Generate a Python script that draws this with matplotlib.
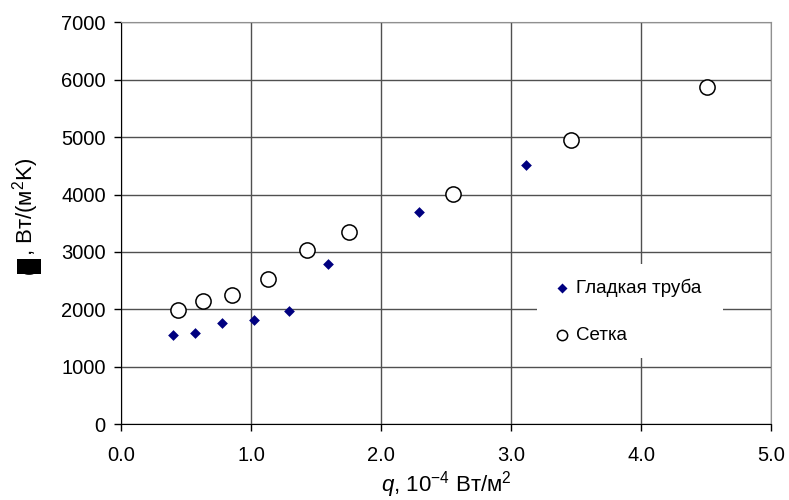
import matplotlib
matplotlib.use("Agg")
import matplotlib.pyplot as plt

plt.rcParams['font.family'] = ['Liberation Sans', 'DejaVu Sans']
plt.rcParams['mathtext.fontset'] = 'custom'
plt.rcParams['mathtext.rm'] = 'Liberation Sans'
plt.rcParams['mathtext.it'] = 'Liberation Sans:italic'

smooth_q = [0.40, 0.57, 0.78, 1.02, 1.29, 1.59, 2.29, 3.115]
smooth_a = [1550, 1580, 1760, 1810, 1970, 2790, 3700, 4520]
mesh_q = [0.44, 0.63, 0.85, 1.13, 1.43, 1.75, 2.55, 3.46, 4.51]
mesh_a = [1985, 2140, 2245, 2530, 3035, 3350, 4010, 4955, 5875]
labels = ["Гладкая труба", "Сетка"]
x_ticks = [0.0, 1.0, 2.0, 3.0, 4.0, 5.0]
y_ticks = [0, 1000, 2000, 3000, 4000, 5000, 6000, 7000]

fig = plt.figure(figsize=(7.89, 5.0), dpi=100)
ax = fig.add_axes([121 / 789, 76 / 500, 650 / 789, 401.5 / 500])

ax.scatter(smooth_q, smooth_a, marker='D', s=30, color='#000080', label=labels[0], zorder=3, linewidths=0)
ax.scatter(mesh_q, mesh_a, marker='o', s=120, facecolors='white', edgecolors='black', linewidths=1.1, label=labels[1], zorder=3)

ax.set_xlim(0, 5)
ax.set_ylim(0, 7000)
ax.set_xticks(x_ticks)
ax.set_xticklabels([f"{t:.1f}" for t in x_ticks])
ax.set_yticks(y_ticks)
ax.grid(True, color='#505050', linewidth=1.0)
ax.set_axisbelow(True)
for s in ['top', 'right']:
    ax.spines[s].set_color('#909090')
for s in ['left', 'bottom']:
    ax.spines[s].set_color('black')
ax.tick_params(axis='both', labelsize=14.5, direction='out', length=5, width=1)
ax.tick_params(axis='x', pad=11)
ax.tick_params(axis='y', pad=6)

ax.set_xlabel("$q$, 10$^{-4}$ Вт/м$^2$", fontsize=16, labelpad=3)

# y-axis label: the symbol alpha shows as a solid black box in the original
fig.text(26 / 789, 1 - 207 / 500, ", Вт/(м$^2$K)", rotation=90, ha='center', va='center', fontsize=16)
fig.text(28.5 / 789, 1 - 266.5 / 500, "\u03b1", rotation=90, ha='center', va='center',
         fontsize=18.5, color='black',
         bbox=dict(boxstyle='square,pad=0', facecolor='black', edgecolor='none'))

leg = ax.legend(loc='center', bbox_to_anchor=(0.64, 0.1545, 0.286, 0.254), mode='expand',
                frameon=True, fancybox=False, framealpha=1, edgecolor='none',
                fontsize=13.5, labelspacing=1.6, handletextpad=0.15, borderpad=0.75,
                handlelength=1.2, borderaxespad=0)
leg.legend_handles[0].set_sizes([26])
leg.legend_handles[1].set_sizes([55])

fig.savefig("out.png", dpi=100)
